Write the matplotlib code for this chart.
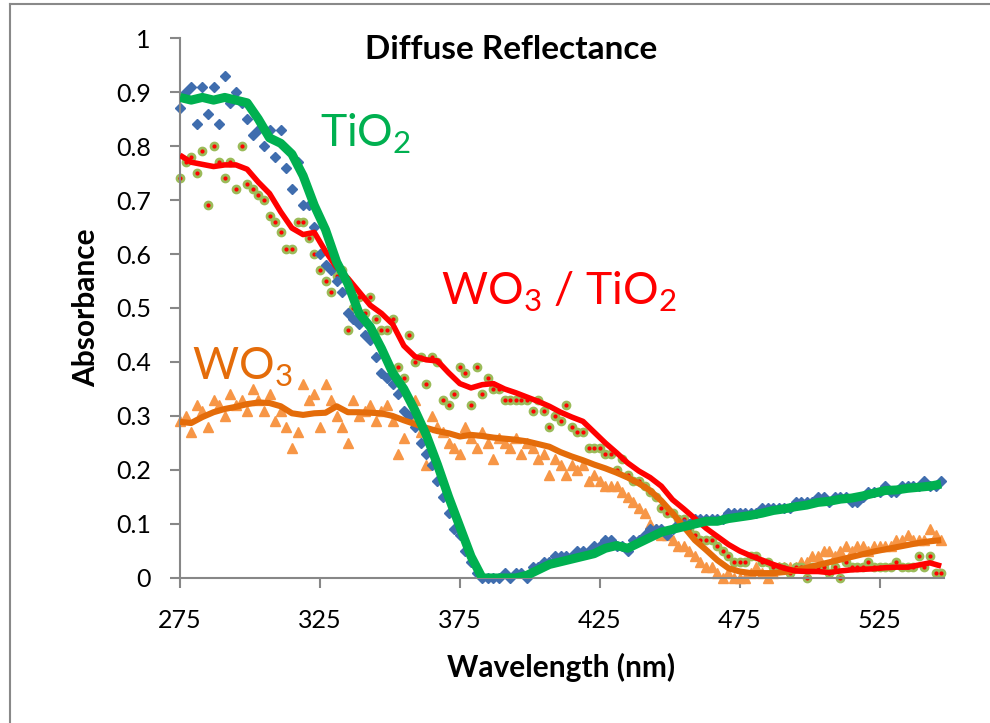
import numpy as np
import matplotlib
matplotlib.use('Agg')
import matplotlib.pyplot as plt
from matplotlib.lines import Line2D

plt.rcParams['font.family'] = ['Lato', 'DejaVu Sans']

# wavelength grids (nm)
scatter_nm = np.arange(275, 548, 2)
line_nm = np.arange(275, 548, 4)

# measured points, TiO2 (blue diamonds)
tio2_pts = [
    0.87, 0.90, 0.91, 0.84, 0.91,
    0.86, 0.91, 0.84, 0.93, 0.88,
    0.90, 0.88, 0.85, 0.82, 0.83,
    0.80, 0.83, 0.78, 0.83, 0.76,
    0.72, 0.77, 0.69, 0.69, 0.65,
    0.60, 0.58, 0.57, 0.55, 0.53,
    0.49, 0.48, 0.47, 0.45, 0.44,
    0.41, 0.38, 0.37, 0.36, 0.34,
    0.31, 0.30, 0.28, 0.25, 0.23,
    0.21, 0.18, 0.15, 0.12, 0.09,
    0.08, 0.05, 0.03, 0.01, 0.00,
    0.00, 0.00, 0.00, 0.01, 0.00,
    0.01, 0.01, 0.00, 0.02, 0.02,
    0.03, 0.03, 0.04, 0.04, 0.04,
    0.04, 0.05, 0.05, 0.05, 0.06,
    0.06, 0.07, 0.07, 0.06, 0.06,
    0.05, 0.07, 0.07, 0.08, 0.09,
    0.09, 0.09, 0.08, 0.09, 0.10,
    0.10, 0.10, 0.11, 0.11, 0.11,
    0.11, 0.11, 0.11, 0.12, 0.12,
    0.12, 0.12, 0.12, 0.12, 0.13,
    0.13, 0.13, 0.13, 0.13, 0.13,
    0.14, 0.14, 0.14, 0.14, 0.15,
    0.15, 0.14, 0.15, 0.15, 0.15,
    0.14, 0.14, 0.15, 0.16, 0.16,
    0.16, 0.17, 0.16, 0.16, 0.17,
    0.17, 0.17, 0.17, 0.18, 0.17,
    0.17, 0.18,
]

# measured points, WO3 / TiO2 (green rings with red dot)
wt_pts = [
    0.74, 0.77, 0.78, 0.75, 0.79,
    0.69, 0.80, 0.77, 0.74, 0.77,
    0.72, 0.80, 0.73, 0.72, 0.71,
    0.70, 0.67, 0.66, 0.64, 0.61,
    0.61, 0.66, 0.66, 0.63, 0.60,
    0.57, 0.55, 0.53, 0.56, 0.57,
    0.46, 0.50, 0.52, 0.49, 0.52,
    0.48, 0.46, 0.46, 0.48, 0.39,
    0.37, 0.45, 0.40, 0.41, 0.36,
    0.41, 0.40, 0.33, 0.32, 0.34,
    0.39, 0.38, 0.32, 0.39, 0.34,
    0.37, 0.35, 0.35, 0.33, 0.33,
    0.33, 0.33, 0.33, 0.31, 0.33,
    0.31, 0.28, 0.30, 0.29, 0.32,
    0.28, 0.27, 0.27, 0.24, 0.24,
    0.24, 0.23, 0.23, 0.20, 0.22,
    0.19, 0.18, 0.18, 0.17, 0.16,
    0.15, 0.13, 0.12, 0.12, 0.11,
    0.11, 0.09, 0.08, 0.07, 0.07,
    0.07, 0.06, 0.05, 0.04, 0.03,
    0.03, 0.03, 0.04, 0.04, 0.03,
    0.03, 0.02, 0.02, 0.02, 0.01,
    0.02, 0.02, 0.00, 0.02, 0.02,
    0.02, 0.01, 0.02, 0.00, 0.03,
    0.02, 0.02, 0.02, 0.03, 0.02,
    0.02, 0.02, 0.02, 0.03, 0.02,
    0.02, 0.02, 0.04, 0.02, 0.04,
    0.01, 0.01,
]

# measured points, WO3 (orange triangles)
wo3_pts = [
    0.29, 0.30, 0.27, 0.32, 0.31,
    0.28, 0.33, 0.32, 0.30, 0.34,
    0.32, 0.33, 0.31, 0.35, 0.33,
    0.31, 0.34, 0.29, 0.31, 0.28,
    0.24, 0.27, 0.36, 0.33, 0.34,
    0.28, 0.36, 0.33, 0.30, 0.28,
    0.25, 0.33, 0.30, 0.31, 0.32,
    0.29, 0.31, 0.32, 0.29, 0.23,
    0.26, 0.30, 0.33, 0.27, 0.21,
    0.30, 0.28, 0.27, 0.25, 0.24,
    0.23, 0.28, 0.26, 0.24, 0.27,
    0.25, 0.22, 0.26, 0.25, 0.24,
    0.26, 0.23, 0.25, 0.24, 0.22,
    0.23, 0.19, 0.22, 0.21, 0.19,
    0.21, 0.20, 0.21, 0.18, 0.19,
    0.18, 0.17, 0.17, 0.17, 0.16,
    0.15, 0.14, 0.13, 0.12, 0.10,
    0.09, 0.08, 0.08, 0.07, 0.06,
    0.06, 0.05, 0.04, 0.03, 0.02,
    0.02, 0.01, 0.00, 0.01, 0.00,
    0.00, 0.00, 0.01, 0.02, 0.01,
    0.00, 0.01, 0.02, 0.02, 0.02,
    0.02, 0.03, 0.03, 0.04, 0.04,
    0.05, 0.05, 0.04, 0.05, 0.06,
    0.05, 0.06, 0.06, 0.05, 0.06,
    0.06, 0.06, 0.06, 0.07, 0.07,
    0.08, 0.07, 0.07, 0.07, 0.09,
    0.08, 0.07,
]

# smoothed curves
tio2_line = [
    0.890, 0.885, 0.890, 0.885, 0.890,
    0.885, 0.880, 0.850, 0.815, 0.805,
    0.785, 0.745, 0.690, 0.645, 0.585,
    0.545, 0.490, 0.465, 0.425, 0.380,
    0.350, 0.310, 0.265, 0.210, 0.150,
    0.095, 0.040, 0.000, 0.000, 0.000,
    0.000, 0.005, 0.015, 0.025, 0.030,
    0.035, 0.040, 0.045, 0.055, 0.060,
    0.055, 0.065, 0.075, 0.085, 0.090,
    0.095, 0.100, 0.105, 0.105, 0.110,
    0.113, 0.116, 0.120, 0.125, 0.128,
    0.132, 0.135, 0.140, 0.142, 0.146,
    0.148, 0.152, 0.157, 0.162, 0.163,
    0.166, 0.168, 0.170, 0.174,
]
wt_line = [
    0.783, 0.770, 0.766, 0.762, 0.765,
    0.765, 0.757, 0.733, 0.712, 0.678,
    0.648, 0.636, 0.640, 0.605, 0.575,
    0.555, 0.530, 0.505, 0.490, 0.470,
    0.430, 0.410, 0.404, 0.402, 0.380,
    0.360, 0.352, 0.358, 0.360, 0.350,
    0.343, 0.335, 0.327, 0.318, 0.307,
    0.298, 0.290, 0.270, 0.250, 0.232,
    0.213, 0.198, 0.186, 0.170, 0.145,
    0.128, 0.110, 0.092, 0.077, 0.062,
    0.050, 0.041, 0.033, 0.025, 0.018,
    0.013, 0.012, 0.012, 0.010, 0.013,
    0.015, 0.016, 0.017, 0.019, 0.020,
    0.020, 0.024, 0.028, 0.022,
]
wo3_line = [
    0.289, 0.287, 0.298, 0.307, 0.313,
    0.317, 0.322, 0.325, 0.324, 0.318,
    0.305, 0.302, 0.305, 0.306, 0.318,
    0.307, 0.307, 0.306, 0.305, 0.300,
    0.292, 0.285, 0.278, 0.272, 0.268,
    0.262, 0.265, 0.263, 0.260, 0.258,
    0.256, 0.253, 0.248, 0.243, 0.233,
    0.225, 0.218, 0.210, 0.203, 0.195,
    0.186, 0.175, 0.162, 0.143, 0.120,
    0.095, 0.070, 0.052, 0.033, 0.018,
    0.012, 0.009, 0.009, 0.009, 0.011,
    0.014, 0.019, 0.024, 0.029, 0.034,
    0.039, 0.044, 0.049, 0.053, 0.057,
    0.061, 0.065, 0.068, 0.070,
]

fig = plt.figure(figsize=(9.9, 7.23), dpi=100)
ax = fig.add_axes([0.1818, 0.2006, 0.7717, 0.7468])

# scatter data
ax.plot(scatter_nm, wo3_pts, linestyle='none', marker='^', ms=7,
        color='#F79646', mec='#F79646', clip_on=False, zorder=2)
ax.plot(scatter_nm, wt_pts, linestyle='none', marker='o', ms=6,
        color='#9BBB59', mec='#9BBB59', clip_on=False, zorder=2)
ax.plot(scatter_nm, wt_pts, linestyle='none', marker='o', ms=2,
        color='#FF0000', mec='#FF0000', clip_on=False, zorder=2)
ax.plot(scatter_nm, tio2_pts, linestyle='none', marker='D', ms=5,
        color='#3F6DAE', mec='#3F6DAE', clip_on=False, zorder=2)

# smoothed curves
ax.plot(line_nm, wo3_line, color='#E46C0A', lw=4.4, solid_capstyle='butt', zorder=3)
ax.plot(line_nm, wt_line, color='#FF0000', lw=4.0, solid_capstyle='butt', zorder=4)
ax.plot(line_nm, tio2_line, color='#00B050', lw=6.5, solid_capstyle='butt', zorder=5)

ax.set_xlim(275, 548)
ax.set_ylim(0, 1)
ax.set_xticks([275, 325, 375, 425, 475, 525])
ax.set_yticks([0, 0.1, 0.2, 0.3, 0.4, 0.5, 0.6, 0.7, 0.8, 0.9, 1])
ax.set_yticklabels(['0', '0.1', '0.2', '0.3', '0.4', '0.5', '0.6', '0.7', '0.8', '0.9', '1'])

for side in ['top', 'right']:
    ax.spines[side].set_visible(False)
for side in ['left', 'bottom']:
    ax.spines[side].set_color('#878787')
    ax.spines[side].set_linewidth(1.5)
ax.tick_params(axis='both', colors='#878787', labelcolor='black', width=1.5,
               length=7, labelsize=18)
ax.tick_params(axis='x', pad=15)
ax.tick_params(axis='y', pad=14)

# series labels
ax.text(0.183, 0.798, 'TiO$_\\mathregular{2}$', transform=ax.transAxes,
        color='#00B050', fontsize=32, va='baseline', ha='left')
ax.text(0.342, 0.506, 'WO$_\\mathregular{3}$ / TiO$_\\mathregular{2}$', transform=ax.transAxes,
        color='#FF0000', fontsize=32, va='baseline', ha='left')
ax.text(0.0157, 0.367, 'WO$_\\mathregular{3}$', transform=ax.transAxes,
        color='#E46C0A', fontsize=32, va='baseline', ha='left')

fig.text(0.516, 0.931, 'Diffuse Reflectance', fontsize=24, fontweight='bold',
         ha='center', va='center')
fig.text(0.087, 0.574, 'Absorbance', fontsize=21.5, fontweight='bold',
         rotation=90, ha='center', va='center')
fig.text(0.567, 0.0775, 'Wavelength (nm)', fontsize=21.5, fontweight='bold',
         ha='center', va='center')

# chart-area border (top and left edges visible)
fig.add_artist(Line2D([0.0105, 1.0], [0.995, 0.995], color='#898989', lw=1.5))
fig.add_artist(Line2D([0.0105, 0.0105], [0.0, 0.995], color='#898989', lw=1.5))

fig.savefig('out.png', dpi=100)
